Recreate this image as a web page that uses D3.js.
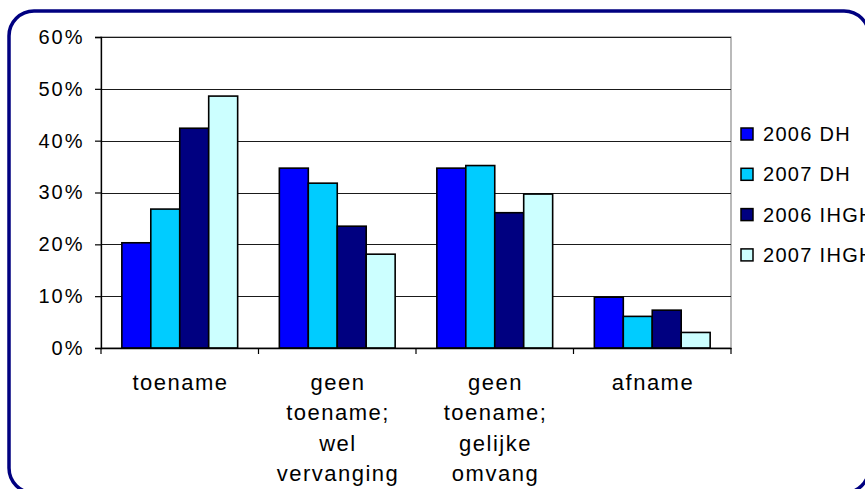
<!DOCTYPE html>
<html>
<head>
<meta charset="utf-8">
<script src="https://cdn.jsdelivr.net/npm/d3@7"></script>
<style>
  html, body { margin: 0; padding: 0; background: #fff; }
  svg { display: block; font-family: "Liberation Sans", Arial, sans-serif; }
</style>
</head>
<body>
<svg id="chart" width="865" height="489"></svg>
<script>
// ---- data ----
const categories = ["toename", "geen toename; wel vervanging", "geen toename; gelijke omvang", "afname"];
const categoryLines = [["toename"], ["geen", "toename;", "wel", "vervanging"], ["geen", "toename;", "gelijke", "omvang"], ["afname"]];
const seriesNames = ["2006 DH", "2007 DH", "2006 IHGH", "2007 IHGH"];
const values2006DH = [20.3, 34.7, 34.7, 9.8];
const values2007DH = [26.8, 31.8, 35.2, 6.1];
const values2006IHGH = [42.4, 23.5, 26.1, 7.3];
const values2007IHGH = [48.6, 18.1, 29.7, 3.0];
const yTicks = [0, 10, 20, 30, 40, 50, 60];
const seriesColors = ["#0000FF", "#00CCFF", "#000080", "#CCFFFF"];

const seriesValues = [values2006DH, values2007DH, values2006IHGH, values2007IHGH];
const table = categories.map((c, i) => ({
  category: c,
  values: seriesNames.map((s, j) => ({ series: s, value: seriesValues[j][i], color: seriesColors[j] }))
}));

// ---- layout ----
const svg = d3.select("#chart");
const plot = { left: 101, right: 731, top: 37, bottom: 348 };

// outer rounded frame
svg.append("rect")
  .attr("x", 9).attr("y", 11)
  .attr("width", 860).attr("height", 482)
  .attr("rx", 25).attr("ry", 25)
  .attr("fill", "#fff")
  .attr("stroke", "#000080")
  .attr("stroke-width", 3.5);

const y = d3.scaleLinear().domain([0, 60]).range([plot.bottom, plot.top]);
const x0 = d3.scaleBand().domain(categories).range([plot.left, plot.right]).padding(0);
const x1 = d3.scaleBand().domain(seriesNames).range([0, x0.bandwidth()])
  .paddingInner(0).paddingOuter(0.72);

// plot-area border (gray)
svg.append("rect")
  .attr("x", plot.left).attr("y", plot.top)
  .attr("width", plot.right - plot.left).attr("height", plot.bottom - plot.top)
  .attr("fill", "none").attr("stroke", "#8c8c8c").attr("stroke-width", 1.2);

// gridlines
svg.append("g").selectAll("line").data(yTicks.filter(d => d > 0)).join("line")
  .attr("x1", plot.left).attr("x2", plot.right)
  .attr("y1", d => Math.round(y(d)) + 0.5).attr("y2", d => Math.round(y(d)) + 0.5)
  .attr("stroke", "#1a1a1a").attr("stroke-width", 1);

// bars
const groups = svg.append("g").selectAll("g").data(table).join("g")
  .attr("transform", d => `translate(${x0(d.category)},0)`);
groups.selectAll("rect").data(d => d.values).join("rect")
  .attr("x", d => x1(d.series))
  .attr("y", d => y(d.value))
  .attr("width", x1.bandwidth())
  .attr("height", d => y(0) - y(d.value))
  .attr("fill", d => d.color)
  .attr("stroke", "#000")
  .attr("stroke-width", 1.6);

// y axis
const yAxis = svg.append("g")
  .attr("transform", `translate(${plot.left},0)`)
  .call(d3.axisLeft(y).tickValues(yTicks).tickFormat(d => d + "%").tickSize(6).tickPadding(10.5));
yAxis.select(".domain").attr("stroke", "#000").attr("stroke-width", 1.3);
yAxis.selectAll(".tick line").attr("stroke", "#000").attr("stroke-width", 1.2);
yAxis.selectAll(".tick text")
  .attr("font-size", 20).attr("fill", "#000")
  .attr("font-family", "Liberation Sans, Arial, sans-serif")
  .style("letter-spacing", "2px");

// x axis (baseline + boundary ticks)
const xAxis = svg.append("g")
  .attr("transform", `translate(0,${plot.bottom})`)
  .call(d3.axisBottom(x0).tickSize(0).tickFormat(""));
xAxis.select(".domain").attr("stroke", "#000").attr("stroke-width", 1.3);
const boundaries = categories.map(c => x0(c)).concat([x0(categories[categories.length - 1]) + x0.bandwidth()]);
svg.append("g").selectAll("line").data(boundaries).join("line")
  .attr("x1", d => d).attr("x2", d => d)
  .attr("y1", plot.bottom).attr("y2", plot.bottom + 6)
  .attr("stroke", "#000").attr("stroke-width", 1.2);

// category labels
const catLabels = svg.append("g").selectAll("text").data(table).join("text")
  .attr("y", 389.5)
  .attr("text-anchor", "middle")
  .attr("font-size", 22)
  .style("letter-spacing", "1.5px")
  .attr("fill", "#000");
catLabels.each(function(d, i) {
  d3.select(this).selectAll("tspan").data(categoryLines[i]).join("tspan")
    .attr("x", x0(d.category) + x0.bandwidth() / 2 + 0.75)
    .attr("dy", (t, k) => k === 0 ? 0 : 30.5)
    .text(t => t);
});

// legend
const legend = svg.append("g").selectAll("g").data(seriesNames).join("g")
  .attr("transform", (d, i) => `translate(741,${134 + i * 40.3})`);
legend.append("rect")
  .attr("x", 0).attr("y", -6).attr("width", 12).attr("height", 12)
  .attr("fill", (d, i) => seriesColors[i])
  .attr("stroke", "#000").attr("stroke-width", 1.5);
legend.append("text")
  .attr("x", 22).attr("y", 7)
  .attr("font-size", 20)
  .style("letter-spacing", "1.3px")
  .attr("fill", "#000")
  .text(d => d);
</script>
</body>
</html>
